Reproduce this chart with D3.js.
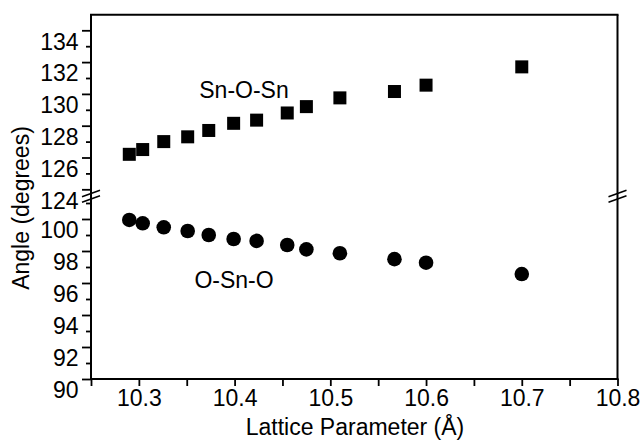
<!DOCTYPE html>
<html>
<head>
<meta charset="utf-8">
<script src="https://cdn.jsdelivr.net/npm/d3@7"></script>
<style>
  html, body { margin: 0; padding: 0; background: #fff; }
  svg { display: block; }
  text { font-family: "Liberation Sans", Arial, Helvetica, sans-serif; fill: #000; }
</style>
</head>
<body>
<svg id="chart" width="642" height="446"></svg>
<script>
// ---- data ----
const lattice = [10.29, 10.304, 10.326, 10.351, 10.373, 10.399, 10.423, 10.455, 10.475, 10.51, 10.567, 10.60, 10.70];
const snOSn   = [126.2, 126.5, 127.0, 127.3, 127.7, 128.15, 128.35, 128.8, 129.2, 129.75, 130.15, 130.55, 131.7];
const oSnO    = [99.94, 99.73, 99.48, 99.25, 99.0, 98.75, 98.63, 98.375, 98.1, 97.86, 97.49, 97.27, 96.56];

const xTickLabels = [10.3, 10.4, 10.5, 10.6, 10.7, 10.8];
const xMinorTicks = [10.25, 10.35, 10.45, 10.55, 10.65, 10.75];
const yUpperMajor = [124, 126, 128, 130, 132, 134];
const yUpperMinor = [125, 127, 129, 131, 133];
const yLowerMajor = [90, 92, 94, 96, 98, 100];
const yLowerMinor = [91, 93, 95, 97, 99, 101];
const seriesLabels = ["Sn-O-Sn", "O-Sn-O"];

// ---- layout ----
const svg = d3.select("#chart");
const L = 91, R = 617.5, T = 14.7, B = 379;
const x = d3.scaleLinear().domain([10.25, 10.8]).range([L, R]);
const yUp = d3.scaleLinear().domain([124, 135]).range([189.3, 14.4]);
const yLow = d3.scaleLinear().domain([90, 101]).range([B, 203]);
const FS = 23;

function styleAxis(g) {
  g.select(".domain").remove();
  g.selectAll(".tick line").attr("stroke", "#000").attr("stroke-width", 1.8);
  g.selectAll("text").attr("font-size", FS).attr("fill", "#000")
    .attr("font-family", '"Liberation Sans", Arial, sans-serif');
}

// x axis ticks
svg.append("g").attr("transform", `translate(0,${B})`)
  .call(d3.axisBottom(x).tickValues(xTickLabels).tickSize(7).tickPadding(3.5).tickFormat(d3.format(".1f")))
  .call(styleAxis);
svg.append("g").attr("transform", `translate(0,${B})`)
  .call(d3.axisBottom(x).tickValues(xMinorTicks).tickSize(7).tickFormat(""))
  .call(styleAxis);

// y axes (labels sit slightly below their ticks, as in the reference)
function yAxis(scale, major, minor) {
  svg.append("g").attr("transform", `translate(${L},0)`)
    .call(d3.axisLeft(scale).tickValues(major).tickSize(9).tickPadding(3.5))
    .call(styleAxis)
    .call(g => g.selectAll("text").attr("y", 11.5));
  svg.append("g").attr("transform", `translate(${L},0)`)
    .call(d3.axisLeft(scale).tickValues(minor).tickSize(5).tickFormat(""))
    .call(styleAxis);
}
yAxis(yUp, yUpperMajor, yUpperMinor);
yAxis(yLow, yLowerMajor, yLowerMinor);

// frame
const frame = svg.append("g").attr("stroke", "#000").attr("stroke-width", 2).attr("fill", "none");
frame.append("line").attr("x1", L).attr("x2", L).attr("y1", T).attr("y2", B + 1);
frame.append("line").attr("x1", L - 1).attr("x2", R + 1).attr("y1", B).attr("y2", B);
frame.append("line").attr("x1", L - 1).attr("x2", R + 1).attr("y1", T).attr("y2", T);
frame.append("line").attr("x1", R).attr("x2", R).attr("y1", T).attr("y2", B);

// axis break marks
[L, R].forEach(cx => {
  [193.5, 199].forEach(cy => {
    frame.append("line").attr("stroke-width", 1.6)
      .attr("x1", cx - 9).attr("y1", cy + 3.2).attr("x2", cx + 9).attr("y2", cy - 3.2);
  });
});

// series markers
const sq = 13;
svg.append("g").selectAll("rect").data(lattice).join("rect")
  .attr("x", (d) => x(d) - sq / 2)
  .attr("y", (d, i) => yUp(snOSn[i]) - sq / 2)
  .attr("width", sq).attr("height", sq).attr("fill", "#000");
svg.append("g").selectAll("circle").data(lattice).join("circle")
  .attr("cx", (d) => x(d))
  .attr("cy", (d, i) => yLow(oSnO[i]))
  .attr("r", 7.3).attr("fill", "#000");

// series labels
svg.append("text").attr("x", 244).attr("y", 98).attr("text-anchor", "middle")
  .attr("font-size", FS).text(seriesLabels[0]);
svg.append("text").attr("x", 234).attr("y", 288).attr("text-anchor", "middle")
  .attr("font-size", FS).text(seriesLabels[1]);

// axis titles
svg.append("text").attr("x", 355).attr("y", 435).attr("text-anchor", "middle")
  .attr("font-size", FS).text("Lattice Parameter (Å)");
svg.append("text").attr("transform", "translate(28.5,208) rotate(-90)")
  .attr("text-anchor", "middle").attr("font-size", FS).text("Angle (degrees)");
</script>
</body>
</html>
